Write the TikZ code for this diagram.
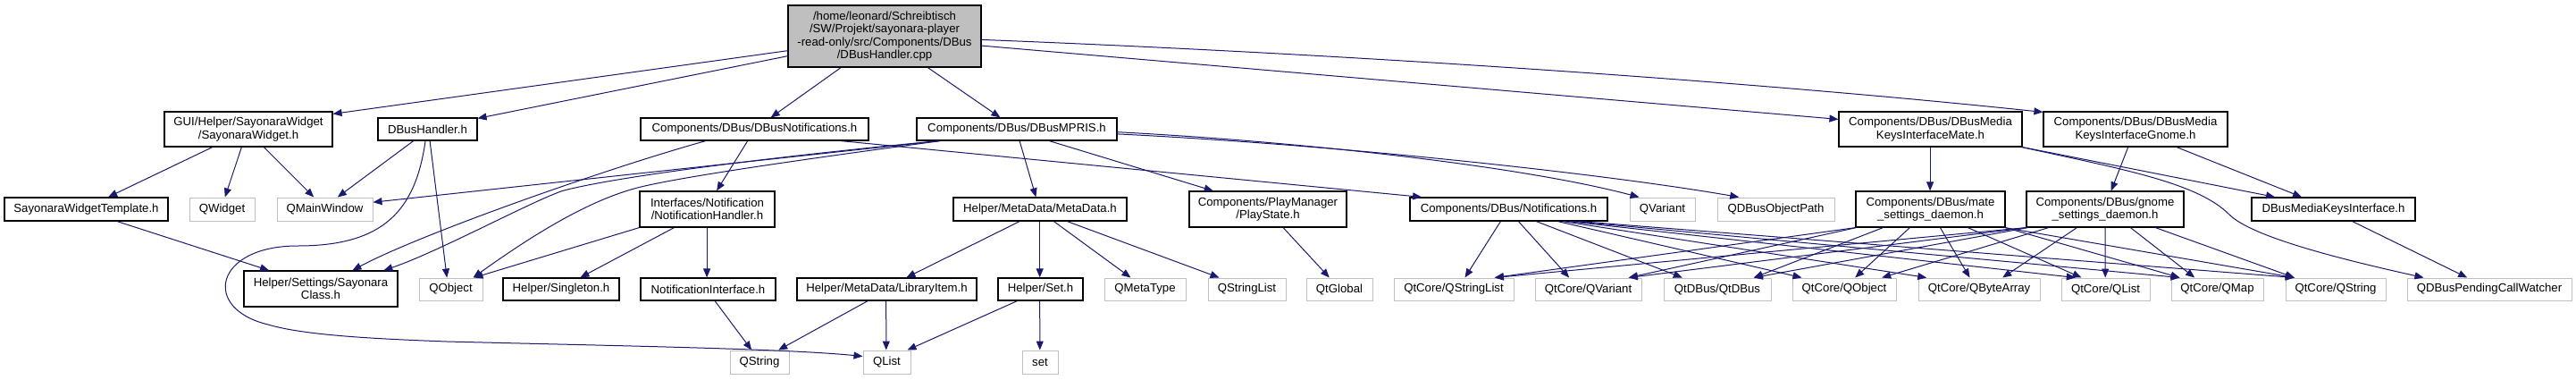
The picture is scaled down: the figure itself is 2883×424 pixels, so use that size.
\documentclass[tikz,border=0pt]{standalone}
\usepackage{fontspec}
\setmainfont{Liberation Sans}
\usetikzlibrary{arrows.meta,calc}
\definecolor{edgec}{HTML}{191970}
\definecolor{extgray}{HTML}{BFBFBF}
\definecolor{rootgray}{HTML}{BFBFBF}
\newcommand\dxfont{\fontsize{13.2}{14.5}\selectfont}
\begin{document}
\begin{tikzpicture}[x=1pt,y=-1pt,
  base/.style={rectangle, inner sep=0pt, align=center, font=\dxfont},
  doc/.style={base, draw=black, line width=1.2pt, fill=white},
  ext/.style={base, draw=extgray, line width=1pt, fill=white},
  rootn/.style={base, draw=black, line width=1.2pt, fill=rootgray},
  dep/.style={draw=edgec, line width=1pt, -{Triangle[length=10pt,width=8pt]}, fill=none},
  r1/.style={minimum height=25},
  r2/.style={minimum height=26},
  tw/.style={minimum height=40}]
\useasboundingbox[fill=white] (0,0) rectangle (2883,424);
% row 0
\node[rootn, minimum width=216, minimum height=69] (root) at (990,40.5) {/home/leonard/Schreibtisch\\/SW/Projekt/sayonara-player\\-read-only/src/Components/DBus\\/DBusHandler.cpp};
% row 1
\node[doc, minimum width=188, minimum height=39] (sw) at (278,144.5) {GUI/Helper/SayonaraWidget\\/SayonaraWidget.h};
\node[doc, r1, minimum width=111] (dbh) at (478.5,144.5) {DBusHandler.h};
\node[doc, r1, minimum width=255] (dbn) at (844.5,144.5) {Components/DBus/DBusNotifications.h};
\node[doc, r1, minimum width=224] (mpris) at (1138,144.5) {Components/DBus/DBusMPRIS.h};
\node[doc, minimum width=205, minimum height=39] (mate) at (2160.5,144.5) {Components/DBus/DBusMedia\\KeysInterfaceMate.h};
\node[doc, minimum width=206, minimum height=39] (gnome) at (2390,144.5) {Components/DBus/DBusMedia\\KeysInterfaceGnome.h};
% row 2
\node[doc, r2, minimum width=183] (swt) at (96.5,234) {SayonaraWidgetTemplate.h};
\node[ext, r2, minimum width=73] (qwidget) at (248.5,234) {QWidget};
\node[ext, r2, minimum width=107] (qmw) at (363.5,234) {QMainWindow};
\node[doc, tw, minimum width=151] (nh) at (791.5,234) {Interfaces/Notification\\/NotificationHandler.h};
\node[doc, r2, minimum width=194] (md) at (1164,234) {Helper/MetaData/MetaData.h};
\node[doc, tw, minimum width=176] (ps) at (1419,234) {Components/PlayManager\\/PlayState.h};
\node[doc, r2, minimum width=221] (notif) at (1688.5,234) {Components/DBus/Notifications.h};
\node[ext, r2, minimum width=73] (qvariant) at (1860.5,234) {QVariant};
\node[ext, r2, minimum width=131] (qdop) at (1987.5,234) {QDBusObjectPath};
\node[doc, tw, minimum width=167] (msd) at (2160.5,234) {Components/DBus/mate\\\_settings\_daemon.h};
\node[doc, tw, minimum width=176] (gsd) at (2356,234) {Components/DBus/gnome\\\_settings\_daemon.h};
\node[doc, r2, minimum width=183] (dmki) at (2611.5,234) {DBusMediaKeysInterface.h};
% row 3
\node[doc, tw, minimum width=172] (sc) at (359,323) {Helper/Settings/Sayonara\\Class.h};
\node[ext, r1, minimum width=71] (qobject) at (504.5,323.5) {QObject};
\node[doc, r1, minimum width=130] (singleton) at (628,323.5) {Helper/Singleton.h};
\node[doc, r1, minimum width=151] (ni) at (792.5,323.5) {NotificationInterface.h};
\node[doc, r1, minimum width=201] (li) at (992.5,323.5) {Helper/MetaData/LibraryItem.h};
\node[doc, r1, minimum width=95] (seth) at (1164.5,323.5) {Helper/Set.h};
\node[ext, r1, minimum width=91] (qmetatype) at (1281.5,323.5) {QMetaType};
\node[ext, r1, minimum width=87] (qstringlist) at (1395.5,323.5) {QStringList};
\node[ext, r1, minimum width=74] (qtglobal) at (1499,323.5) {QtGlobal};
\node[ext, r1, minimum width=134] (cstringlist) at (1627,323.5) {QtCore/QStringList};
\node[ext, r1, minimum width=119] (cvariant) at (1777.5,323.5) {QtCore/QVariant};
\node[ext, r1, minimum width=120] (qtdbus) at (1922,323.5) {QtDBus/QtDBus};
\node[ext, r1, minimum width=116] (cobject) at (2064,323.5) {QtCore/QObject};
\node[ext, r1, minimum width=136] (cbytearray) at (2215,323.5) {QtCore/QByteArray};
\node[ext, r1, minimum width=99] (clist) at (2356.5,323.5) {QtCore/QList};
\node[ext, r1, minimum width=103] (cmap) at (2481.5,323.5) {QtCore/QMap};
\node[ext, r1, minimum width=112] (cstring) at (2614,323.5) {QtCore/QString};
\node[ext, r1, minimum width=184] (pcw) at (2786,323.5) {QDBusPendingCallWatcher};
% row 4
\node[ext, r2, minimum width=66] (qstring) at (850,405) {QString};
\node[ext, r2, minimum width=53] (qlist) at (992.5,405) {QList};
\node[ext, r2, minimum width=40] (setn) at (1164,405) {set};
% edges from root
\draw[dep] ($(root.north west)+(0,51.3)$) -- ($(sw.north east)+(0,3)$);
\draw[dep] ($(root.north west)+(0,57.3)$) -- ($(dbh.north east)+(0,1)$);
\draw[dep] ($(root.south west)+(59.7,0)$) -- ($(dbn.north west)+(146.3,0)$);
\draw[dep] ($(root.south west)+(157,0)$) -- ($(mpris.north west)+(94,0)$);
\draw[dep] ($(root.north east)+(0,45.7)$) -- ($(mate.north west)+(0,9)$);
\draw[dep] ($(root.north east)+(0,39)$) .. controls (1500,60) and (1950,90) .. ($(gnome.north west)+(0,1)$);
% SayonaraWidget
\draw[dep] ($(sw.south west)+(54.3,0)$) -- ($(swt.north west)+(116.7,0)$);
\draw[dep] ($(sw.south west)+(87,0)$) -- ($(qwidget.north west)+(40.3,0)$);
\draw[dep] ($(sw.south west)+(112,0)$) -- ($(qmw.north west)+(41.7,0)$);
\draw[dep] ($(swt.south west)+(126.7,0)$) -- ($(sc.north west)+(28.7,0)$);
% DBusHandler.h
\draw[dep] ($(dbh.south west)+(40.3,0)$) -- ($(qmw.north west)+(68.3,0)$);
\draw[dep] ($(dbh.south west)+(58.7,0)$) -- ($(qobject.north west)+(31.7,0)$);
\draw[dep] ($(dbh.south west)+(53.7,0)$) .. controls (465,235) and (430,275) .. (333,275) .. controls (240,275) and (225,345) .. (300,363) .. controls (340,375) and (420,379) .. (500,382) .. controls (700,387) and (880,390) .. ($(qlist.north west)+(0,7)$);
% DBusNotifications.h
\draw[dep] ($(dbn.south west)+(73.4,0)$) .. controls (680,188) and (470,262) .. ($(sc.north west)+(122,0)$);
\draw[dep] ($(dbn.south west)+(120.3,0)$) -- ($(nh.north west)+(86.7,0)$);
\draw[dep] ($(dbn.south west)+(224.7,0)$) -- ($(notif.north west)+(13.7,0)$);
% DBusMPRIS.h
\draw[dep] ($(mpris.south west)+(25.7,0)$) -- ($(qmw.north east)+(0,5.7)$);
\draw[dep] ($(mpris.south west)+(25,0)$) .. controls (900,172) and (700,195) .. (630,213.3) .. controls (595,225) and (490,282) .. ($(sc.north west)+(157,0)$);
\draw[dep] ($(mpris.south west)+(27,0)$) .. controls (900,178) and (760,198) .. (713.3,210) .. controls (660,224) and (600,260) .. ($(qobject.north west)+(61,0)$);
\draw[dep] ($(mpris.south west)+(115.7,0)$) -- ($(md.north west)+(93,0)$);
\draw[dep] ($(mpris.south west)+(149,0)$) -- ($(ps.north west)+(27.3,0)$);
\draw[dep] ($(mpris.north east)+(0,16.3)$) .. controls (1450,158) and (1700,185) .. ($(qvariant.north west)+(11,0)$);
\draw[dep] ($(mpris.north east)+(0,18.5)$) .. controls (1500,162) and (1800,195) .. ($(qdop.north west)+(24.7,0)$);
% NotificationHandler
\draw[dep] (nh.south west) -- ($(qobject.north west)+(62,0)$);
\draw[dep] ($(nh.south west)+(39,0)$) -- ($(singleton.north west)+(87,0)$);
\draw[dep] ($(nh.south west)+(75.7,0)$) -- ($(ni.north west)+(74.7,0)$);
\draw[dep] ($(ni.south west)+(83.7,0)$) -- ($(qstring.north west)+(24.7,0)$);
% MetaData
\draw[dep] ($(md.south west)+(74.7,0)$) -- ($(li.north west)+(123,0)$);
\draw[dep] ($(md.south west)+(97.3,0)$) -- ($(seth.north west)+(47.3,0)$);
\draw[dep] ($(md.south west)+(113,0)$) -- ($(qmetatype.north west)+(30,0)$);
\draw[dep] ($(md.south west)+(128,0)$) -- ($(qstringlist.north west)+(13,0)$);
\draw[dep] ($(li.south west)+(79.7,0)$) -- ($(qstring.north west)+(54.7,0)$);
\draw[dep] ($(li.south west)+(100.3,0)$) -- ($(qlist.north west)+(26.3,0)$);
\draw[dep] ($(seth.south west)+(22,0)$) -- ($(qlist.north west)+(50,0)$);
\draw[dep] ($(seth.south west)+(47.3,0)$) -- ($(setn.north west)+(20.3,0)$);
\draw[dep] ($(ps.south west)+(105.7,0)$) -- ($(qtglobal.north west)+(26.3,0)$);
% Notifications.h
\draw[dep] ($(notif.south west)+(102,0)$) -- ($(cstringlist.north west)+(80,0)$);
\draw[dep] ($(notif.south west)+(122,0)$) -- ($(cvariant.north west)+(38.7,0)$);
\draw[dep] ($(notif.south west)+(142,0)$) -- ($(qtdbus.north west)+(21.3,0)$);
\draw[dep] ($(notif.south west)+(166,0)$) -- ($(cobject.north west)+(11,0)$);
\draw[dep] ($(notif.south west)+(172,0)$) -- ($(cbytearray.north west)+(9.7,0)$);
\draw[dep] ($(notif.south west)+(178,0)$) -- ($(clist.north west)+(16.3,0)$);
\draw[dep] ($(notif.south west)+(184,0)$) -- ($(cmap.north west)+(10,0)$);
\draw[dep] ($(notif.south west)+(190,0)$) -- ($(cstring.north west)+(10.3,0)$);
% mate_settings_daemon.h
\draw[dep] (msd.south west) -- ($(cstringlist.north west)+(113.3,0)$);
\draw[dep] ($(msd.south west)+(1,0)$) -- ($(cvariant.north west)+(105.3,0)$);
\draw[dep] ($(msd.south west)+(31,0)$) -- ($(qtdbus.north west)+(101.3,0)$);
\draw[dep] ($(msd.south west)+(61,0)$) -- ($(cobject.north west)+(70.7,0)$);
\draw[dep] ($(msd.south west)+(95,0)$) -- ($(cbytearray.north west)+(58,0)$);
\draw[dep] ($(msd.south west)+(126,0)$) -- ($(clist.north west)+(23,0)$);
\draw[dep] (msd.south east) -- ($(cmap.north west)+(10,0)$);
\draw[dep] ($(msd.south east)+(-1,0)$) -- ($(cstring.north west)+(10.3,0)$);
% gnome_settings_daemon.h
\draw[dep] (gsd.south west) -- ($(cstringlist.north west)+(113.3,0)$);
\draw[dep] ($(gsd.south west)+(1,0)$) -- ($(cvariant.north west)+(105.3,0)$);
\draw[dep] ($(gsd.south west)+(2,0)$) -- ($(qtdbus.north west)+(101.3,0)$);
\draw[dep] ($(gsd.south west)+(25.3,0)$) -- ($(cobject.north west)+(100.7,0)$);
\draw[dep] ($(gsd.south west)+(57,0)$) -- ($(cbytearray.north west)+(94.7,0)$);
\draw[dep] ($(gsd.south west)+(88.7,0)$) -- ($(clist.north west)+(49.7,0)$);
\draw[dep] ($(gsd.south west)+(117,0)$) -- ($(cmap.north west)+(26.7,0)$);
\draw[dep] ($(gsd.south west)+(145,0)$) -- ($(cstring.north west)+(10.3,0)$);
% media keys
\draw[dep] ($(mate.south west)+(102.7,0)$) -- ($(msd.north west)+(83.7,0)$);
\draw[dep] ($(gnome.south west)+(95.3,0)$) -- ($(gsd.north west)+(95.3,0)$);
\draw[dep] ($(gnome.south west)+(149.7,0)$) -- ($(dmki.north west)+(56.7,0)$);
\draw[dep] (mate.south east) -- ($(dmki.north west)+(26.7,0)$);
\draw[dep] ($(mate.south east)+(-1,0)$) .. controls (2380,190) and (2460,205) .. (2495,240) .. controls (2520,265) and (2620,290) .. ($(pcw.north west)+(19,0)$);
\draw[dep] ($(dmki.south west)+(113.3,0)$) -- ($(pcw.north west)+(67.7,0)$);
\end{tikzpicture}
\end{document}
